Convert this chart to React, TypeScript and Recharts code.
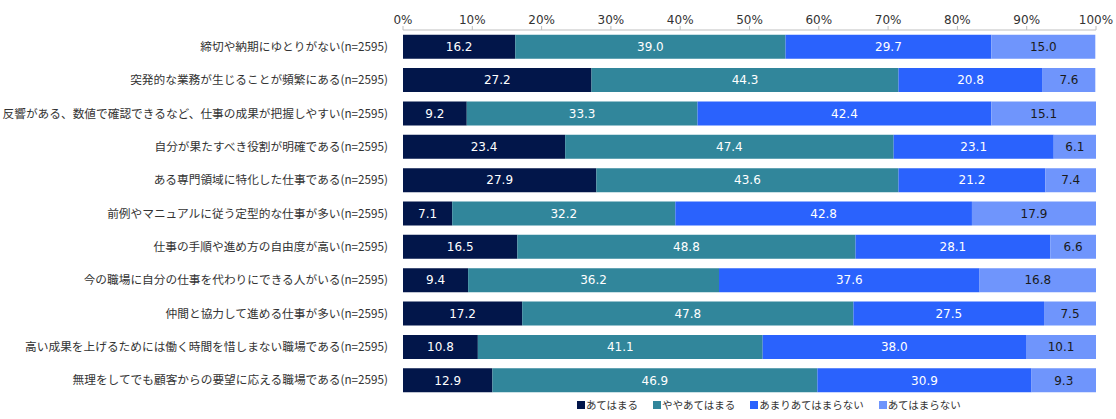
import React from "react";
import { BarChart, Bar, XAxis, YAxis, Legend, LabelList } from "recharts";

const categories = [
  "締切や納期にゆとりがない(n=2595)",
  "突発的な業務が生じることが頻繁にある(n=2595)",
  "反響がある、数値で確認できるなど、仕事の成果が把握しやすい(n=2595)",
  "自分が果たすべき役割が明確である(n=2595)",
  "ある専門領域に特化した仕事である(n=2595)",
  "前例やマニュアルに従う定型的な仕事が多い(n=2595)",
  "仕事の手順や進め方の自由度が高い(n=2595)",
  "今の職場に自分の仕事を代わりにできる人がいる(n=2595)",
  "仲間と協力して進める仕事が多い(n=2595)",
  "高い成果を上げるためには働く時間を惜しまない職場である(n=2595)",
  "無理をしてでも顧客からの要望に応える職場である(n=2595)",
];

const seriesNames = ["あてはまる", "ややあてはまる", "あまりあてはまらない", "あてはまらない"];
const atehamaru = [16.2, 27.2, 9.2, 23.4, 27.9, 7.1, 16.5, 9.4, 17.2, 10.8, 12.9];
const yaya = [39.0, 44.3, 33.3, 47.4, 43.6, 32.2, 48.8, 36.2, 47.8, 41.1, 46.9];
const amari = [29.7, 20.8, 42.4, 23.1, 21.2, 42.8, 28.1, 37.6, 27.5, 38.0, 30.9];
const atehamaranai = [15.0, 7.6, 15.1, 6.1, 7.4, 17.9, 6.6, 16.8, 7.5, 10.1, 9.3];
const xTicks = [0, 10, 20, 30, 40, 50, 60, 70, 80, 90, 100];

const colors = ["#02164a", "#31869b", "#2a62fd", "#6f95fc"];
const labelColors = ["#ffffff", "#ffffff", "#ffffff", "#1a1a1a"];
const keys = ["s0", "s1", "s2", "s3"];

const data = categories.map((c, i) => ({
  name: c,
  s0: atehamaru[i],
  s1: yaya[i],
  s2: amari[i],
  s3: atehamaranai[i],
}));

const numFont = "'DejaVu Sans', Verdana, sans-serif";
const jpFont = "'Noto Sans CJK JP', sans-serif";

const LegendContent = () => (
  <div style={{ display: "flex", alignItems: "center", whiteSpace: "nowrap", fontFamily: jpFont, fontSize: 10.5, color: "#333" }}>
    {seriesNames.map((n, i) => (
      <div key={n} style={{ display: "flex", alignItems: "center", marginRight: 15 }}>
        <span style={{ display: "inline-block", width: 8, height: 8, background: colors[i], marginRight: 1 }} />
        <span>{n}</span>
      </div>
    ))}
  </div>
);

export default function App() {
  return (
    <div style={{ position: "absolute", left: 0, top: 0, width: 1116, height: 419, background: "#fff" }}>
      <BarChart
        width={1116}
        height={419}
        data={data}
        layout="vertical"
        margin={{ top: 0, right: 20, bottom: 0, left: 0 }}
        barCategoryGap="14%"
      >
        <XAxis
          type="number"
          orientation="top"
          domain={[0, 100]}
          ticks={xTicks}
          allowDataOverflow
          tickFormatter={(v) => `${v}%`}
          height={30}
          axisLine={{ stroke: "#bfbfbf" }}
          tickLine={{ stroke: "#bfbfbf" }}
          tickSize={4}
          tick={{ fill: "#333", fontSize: 12, fontFamily: numFont }}
        />
        <YAxis
          type="category"
          dataKey="name"
          width={403}
          axisLine={false}
          tickLine={false}
          tickMargin={9}
          interval={0}
          tick={{ fill: "#333", fontSize: 11.7, fontFamily: jpFont }}
        />
        <Legend
          verticalAlign="bottom"
          height={22}
          content={LegendContent}
          wrapperStyle={{ left: 577, width: 500, bottom: 0 }}
        />
        {keys.map((k, i) => (
          <Bar key={k} dataKey={k} name={seriesNames[i]} stackId="a" fill={colors[i]} isAnimationActive={false}>
            <LabelList
              dataKey={k}
              position="center"
              formatter={(v: number) => v.toFixed(1)}
              style={{ fill: labelColors[i], fontSize: 12, fontFamily: numFont }}
            />
          </Bar>
        ))}
      </BarChart>
    </div>
  );
}
